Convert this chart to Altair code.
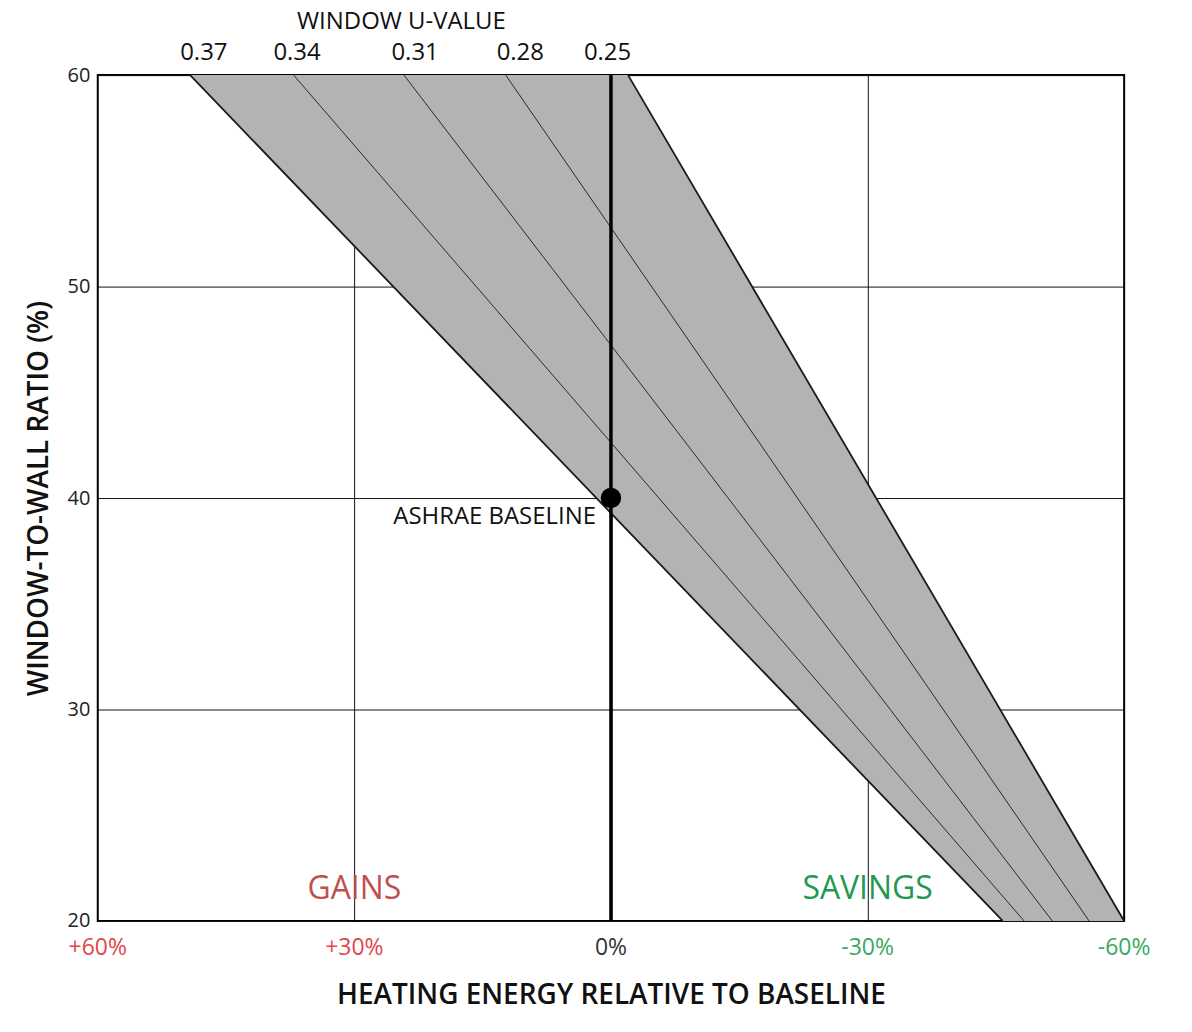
import altair as alt
import pandas as pd

# ---- data ----
u_values = ["0.37", "0.34", "0.31", "0.28", "0.25"]
energy_at_wwr60 = [49.2, 37.1, 24.2, 12.3, -2.0]     # % relative heating energy at WWR 60 %
energy_at_wwr20 = [-45.8, -48.3, -51.6, -55.9, -60.0]  # % relative heating energy at WWR 20 %
line_widths = [1.8, 0.9, 0.9, 0.9, 1.8]
u_label_pos = [47.6, 36.7, 22.9, 10.6, 0.4]

wwr_top, wwr_bottom = 60, 20

x_ticks = [60, 30, 0, -30, -60]
x_tick_labels = ["+60%", "+30%", "0%", "-30%", "-60%"]
x_tick_colors = ["#e0474c", "#e0474c", "#333333", "#3aa860", "#3aa860"]

y_ticks = [20, 30, 40, 50, 60]

baseline_energy, baseline_wwr = 0, 40

region_labels = ["GAINS", "SAVINGS"]
region_x = [30, -30]
region_colors = ["#c0504d", "#1f9a50"]

# ---- tables ----
lines_rows = []
for u, a, b, w in zip(u_values, energy_at_wwr60, energy_at_wwr20, line_widths):
    lines_rows.append({"u": u, "energy": a, "wwr": wwr_top, "w": w})
    lines_rows.append({"u": u, "energy": b, "wwr": wwr_bottom, "w": w})
lines_df = pd.DataFrame(lines_rows)

band_df = pd.DataFrame({
    "wwr": [wwr_top, wwr_bottom],
    "x_hi": [energy_at_wwr60[0], energy_at_wwr20[0]],
    "x_lo": [energy_at_wwr60[-1], energy_at_wwr20[-1]],
})

ulabel_df = pd.DataFrame({"u": u_values, "energy": u_label_pos})
xlab_df = pd.DataFrame({"v": x_ticks, "lab": x_tick_labels, "col": x_tick_colors})
base_df = pd.DataFrame({"energy": [baseline_energy], "wwr": [baseline_wwr]})
region_df = pd.DataFrame({"lab": region_labels, "energy": region_x, "col": region_colors, "wwr": [21.5, 21.5]})
vline_df = pd.DataFrame({"energy": [0], "y1": [wwr_bottom], "y2": [wwr_top]})

FONT = "Open Sans"
W, H = 1029, 848

xscale = alt.Scale(domain=[-60, 60], reverse=True, nice=False, zero=False)
yscale = alt.Scale(domain=[20, 60], nice=False, zero=False)

xaxis = alt.Axis(
    values=[30, 0, -30], grid=True, gridColor="#111111", gridWidth=1,
    labels=False, ticks=False, domain=False,
    title="HEATING ENERGY RELATIVE TO BASELINE", titleFont=FONT, titleFontSize=28,
    titleFontWeight=600, titleColor="#111111", titleY=75, titleBaseline="middle",
)
yaxis = alt.Axis(
    values=y_ticks, grid=True, gridColor="#111111", gridWidth=1,
    ticks=False, domain=False, labelFont=FONT, labelFontSize=20, labelColor="#222222",
    labelPadding=8,
    title="WINDOW-TO-WALL RATIO (%)", titleFont=FONT, titleFontSize=28,
    titleFontWeight=600, titleColor="#111111", titleX=-58, titleBaseline="middle",
)

band = alt.Chart(band_df).mark_area(orient="horizontal", color="#b3b3b3", opacity=1).encode(
    y=alt.Y("wwr:Q", scale=yscale, axis=yaxis),
    x=alt.X("x_hi:Q", scale=xscale, axis=xaxis),
    x2="x_lo:Q",
)

ulines = alt.Chart(lines_df).mark_line(color="#1a1a1a").encode(
    x=alt.X("energy:Q", scale=xscale),
    y=alt.Y("wwr:Q", scale=yscale),
    detail="u:N",
    strokeWidth=alt.StrokeWidth("w:Q", scale=None),
)

vline = alt.Chart(vline_df).mark_rule(color="#000000", strokeWidth=3.5).encode(
    x=alt.X("energy:Q", scale=xscale),
    y=alt.Y("y1:Q", scale=yscale),
    y2="y2:Q",
)

dot = alt.Chart(base_df).mark_point(filled=True, color="#000000", size=420, opacity=1, shape="circle").encode(
    x=alt.X("energy:Q", scale=xscale),
    y=alt.Y("wwr:Q", scale=yscale),
)

dot_label = alt.Chart(base_df).mark_text(
    text="ASHRAE BASELINE", align="right", baseline="middle", dx=-15, dy=19,
    font=FONT, fontSize=24, fontWeight=500, color="#111111",
).encode(
    x=alt.X("energy:Q", scale=xscale),
    y=alt.Y("wwr:Q", scale=yscale),
)

ulabels = alt.Chart(ulabel_df).mark_text(
    baseline="middle", align="center", font=FONT, fontSize=24, fontWeight=500, color="#111111",
).encode(
    x=alt.X("energy:Q", scale=xscale),
    y=alt.value(-22),
    text="u:N",
)

utitle = alt.Chart(pd.DataFrame({"t": ["WINDOW U-VALUE"], "energy": [24.5]})).mark_text(
    baseline="middle", align="center", font=FONT, fontSize=24, fontWeight=500, color="#111111",
).encode(
    x=alt.X("energy:Q", scale=xscale),
    y=alt.value(-53),
    text="t:N",
)

xlabels = alt.Chart(xlab_df).mark_text(
    baseline="middle", align="center", font=FONT, fontSize=23,
).encode(
    x=alt.X("v:Q", scale=xscale),
    y=alt.value(H + 27),
    text="lab:N",
    color=alt.Color("col:N", scale=None),
)

regions = alt.Chart(region_df).mark_text(
    baseline="middle", align="center", font=FONT, fontSize=32, fontWeight=500,
).encode(
    x=alt.X("energy:Q", scale=xscale),
    y=alt.Y("wwr:Q", scale=yscale),
    text="lab:N",
    color=alt.Color("col:N", scale=None),
)

chart = alt.layer(
    band, ulines, vline, dot, dot_label, ulabels, utitle, xlabels, regions
).properties(
    width=W, height=H,
    autosize=alt.AutoSizeParams(type="none"),
    padding={"left": 90, "top": 66, "right": 60, "bottom": 100},
    background="white",
).configure_view(
    stroke="#000000", strokeWidth=2,
)

chart.save("out.html", embed_options={"renderer": "svg", "actions": False})
